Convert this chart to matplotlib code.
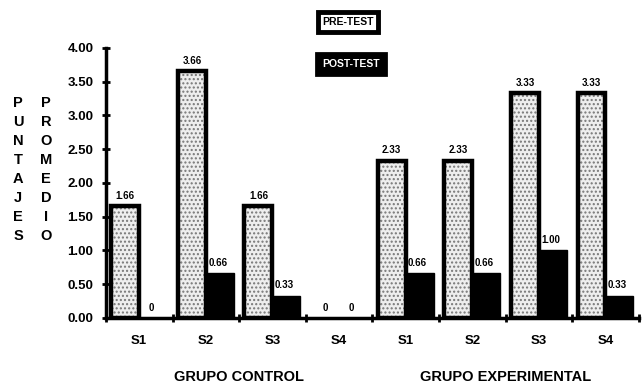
import matplotlib
matplotlib.use("Agg")
import matplotlib.pyplot as plt
import numpy as np

# Data
sessions = ["S1", "S2", "S3", "S4", "S1", "S2", "S3", "S4"]
groups = ["GRUPO CONTROL", "GRUPO EXPERIMENTAL"]
pre_test = [1.66, 3.66, 1.66, 0, 2.33, 2.33, 3.33, 3.33]
post_test = [0, 0.66, 0.33, 0, 0.66, 0.66, 1.00, 0.33]
pre_labels = ["1.66", "3.66", "1.66", "0", "2.33", "2.33", "3.33", "3.33"]
post_labels = ["0", "0.66", "0.33", "0", "0.66", "0.66", "1.00", "0.33"]
yticks = [0, 0.5, 1.0, 1.5, 2.0, 2.5, 3.0, 3.5, 4.0]
ylabel_left = "PUNTAJES"
ylabel_right = "PROMEDIO"

plt.rcParams["font.family"] = ["Liberation Sans", "DejaVu Sans"]

fig = plt.figure(figsize=(6.42, 3.84), dpi=100)
ax = fig.add_axes([0.165, 0.172, 0.83, 0.703])

x = np.arange(len(sessions))
w = 0.42
pre_x = x - 0.5 + 0.08 + w / 2
post_x = x - 0.5 + 0.50 + w / 2

plt.rcParams["hatch.linewidth"] = 1.0
# stippled interior of the pre-test bars
ax.bar(pre_x, pre_test, width=w, color="#eeeeee", edgecolor="#777777",
       hatch="....", linewidth=0, zorder=2)
# heavy black outline (skipped for empty bars)
outline_w = [3.2 if v > 0 else 0 for v in pre_test]
ax.bar(pre_x, pre_test, width=w, facecolor="none", edgecolor="black",
       linewidth=outline_w, zorder=3)
ax.bar(post_x, post_test, width=w, color="black", edgecolor="black",
       linewidth=1, zorder=2)

for xi, v, s in zip(pre_x, pre_test, pre_labels):
    ax.text(xi, v + 0.08, s, ha="center", va="bottom", fontsize=7,
            fontweight="bold", zorder=4)
for xi, v, s in zip(post_x, post_test, post_labels):
    ax.text(xi - 0.03, v + 0.08, s, ha="center", va="bottom", fontsize=7,
            fontweight="bold", zorder=4)

ax.set_xlim(-0.5, len(sessions) - 0.5)
ax.set_ylim(0, 4.0)
ax.set_yticks(yticks)
ax.set_yticklabels([f"{t:.2f}" for t in yticks], fontsize=9.5, fontweight="bold")
ax.set_xticks(np.arange(len(sessions) + 1) - 0.5)
ax.set_xticklabels([])
ax.set_xticks(x, minor=True)
ax.set_xticklabels(sessions, minor=True, fontsize=9.5, fontweight="bold")
ax.tick_params(axis="x", which="major", direction="inout", length=6,
               width=2)
ax.tick_params(axis="x", which="minor", length=0, pad=12)
ax.tick_params(axis="y", direction="inout", length=6, width=2, pad=6)

for side in ("top", "right"):
    ax.spines[side].set_visible(False)
for side in ("left", "bottom"):
    ax.spines[side].set_linewidth(2.5)

# group titles
ax.text(1.5, -0.22, groups[0], transform=ax.get_xaxis_transform(),
        ha="center", va="center", fontsize=10.5, fontweight="heavy")
ax.text(5.5, -0.22, groups[1], transform=ax.get_xaxis_transform(),
        ha="center", va="center", fontsize=10.5, fontweight="heavy")

# stacked vertical y-axis titles
for i, (a, b) in enumerate(zip(ylabel_left, ylabel_right)):
    yy = 1 - (103 + i * 19) / 384
    fig.text(18 / 642, yy, a, ha="center", va="center", fontsize=10.5,
             fontweight="heavy")
    fig.text(46 / 642, yy, b, ha="center", va="center", fontsize=10.5,
             fontweight="heavy")

# legend boxes
fig.text(348 / 642, 1 - 22 / 384, "PRE-TEST", ha="center", va="center",
         fontsize=7.5, fontweight="bold", color="black",
         bbox=dict(boxstyle="square,pad=0.45", facecolor="white",
                   edgecolor="black", linewidth=3.5))
fig.text(351 / 642, 1 - 64 / 384, "POST-TEST", ha="center", va="center",
         fontsize=7.5, fontweight="bold", color="white",
         bbox=dict(boxstyle="square,pad=0.55", facecolor="black",
                   edgecolor="black", linewidth=2))

fig.savefig("out.png", dpi=100)
